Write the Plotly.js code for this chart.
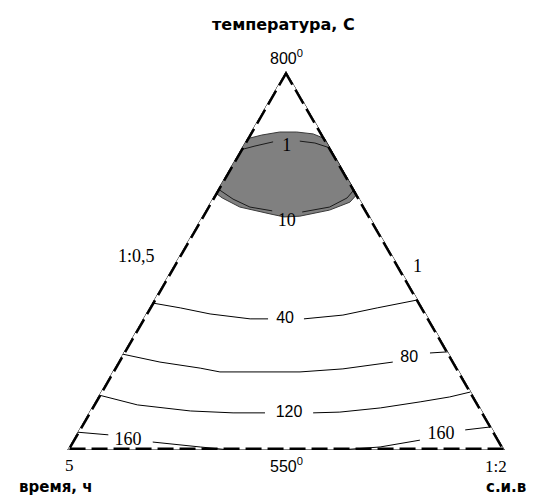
<!DOCTYPE html>
<html>
<head>
<meta charset="utf-8">
<script src="https://cdn.plot.ly/plotly-3.0.1.min.js"></script>
<style>html,body{margin:0;padding:0;background:#fff;}#chart{width:537px;height:496px;}</style>
</head>
<body>
<div id="chart"></div>
<script>
// Ternary coordinates: a = temperature (top vertex), c = ratio (bottom-right), b = time (bottom-left, computed as 1-a-c)
// Triangle border
const borderA = [1, 0, 0, 1];
const borderC = [0, 0, 1, 0];

// Shaded optimum region (outer outline)
const regionA = [0.821, 0.831, 0.839, 0.839, 0.834, 0.821, 0.675, 0.654, 0.633, 0.617, 0.615, 0.623, 0.641, 0.665, 0.678];
const regionC = [0.000, 0.029, 0.066, 0.105, 0.145, 0.179, 0.325, 0.319, 0.283, 0.223, 0.188, 0.152, 0.074, 0.022, 0.000];

// Contour level 1 (gap for label)
const iso1A = [0.792, 0.802, 0.813, null, 0.815, 0.810, 0.797];
const iso1C = [0.000, 0.028, 0.064, null, 0.124, 0.161, 0.202];
// Contour level 10
const iso10A = [0.689, 0.662, 0.641, 0.631, null, 0.628, 0.641, 0.665, 0.686];
const iso10C = [0.000, 0.048, 0.097, 0.153, null, 0.223, 0.279, 0.307, 0.312];
// Contour level 40
const iso40A = [0.388, 0.375, 0.359, 0.346, 0.346, null, 0.346, 0.356, 0.375, 0.396];
const iso40C = [0.000, 0.071, 0.147, 0.245, 0.286, null, 0.368, 0.452, 0.521, 0.603];
// Contour level 80
const iso80A = [0.253, 0.232, 0.216, 0.206, 0.206, 0.214, 0.232, null, 0.256, 0.259];
const iso80C = [0.000, 0.096, 0.196, 0.246, 0.429, 0.523, 0.628, null, 0.701, 0.741];
// Contour level 120
const iso120A = [0.145, 0.119, 0.103, 0.098, 0.098, null, 0.098, 0.100, 0.111, 0.127, 0.140, 0.153];
const iso120C = [0.000, 0.101, 0.230, 0.330, 0.403, null, 0.513, 0.573, 0.660, 0.743, 0.804, 0.845];
// Contour level 160 (two branches)
const iso160A = [0.047, 0.040, null, 0.021, 0.008, 0.000, null, 0.000, 0.008, 0.026, null, 0.053, 0.061];
const iso160C = [0.000, 0.074, null, 0.185, 0.300, 0.372, null, 0.623, 0.711, 0.793, null, 0.883, 0.938];

// Contour labels
const sansLabels = ['40', '80', '120'];
const sansLabelA = [0.346, 0.243, 0.098];
const sansLabelC = [0.325, 0.660, 0.458];
const serifLabels = ['1', '10', '160', '160'];
const serifLabelA = [0.802, 0.604, 0.026, 0.042];
const serifLabelC = [0.101, 0.200, 0.126, 0.833];

// Axis / vertex texts
const titleTop = 'температура, С';
const titleLeft = 'время, ч';
const titleRight = 'с.и.в';
const topValue = '800';
const bottomValue = '550';
const leftValue = '5';
const rightValue = '1:2';
const leftSideValue = '1:0,5';
const rightSideValue = '1';

function line(a, c, opts) {
  return Object.assign({
    type: 'scatterternary', mode: 'lines', a: a, c: c,
    line: {color: '#000', width: 1}, hoverinfo: 'skip', cliponaxis: false
  }, opts || {});
}

const traces = [
  line(regionA, regionC, {fill: 'toself', fillcolor: '#808080', line: {color: '#3a3a3a', width: 1}}),
  line(iso1A, iso1C, {line: {color: '#1a1a1a', width: 1}}),
  line(iso10A, iso10C, {line: {color: '#1a1a1a', width: 1}}),
  line(iso40A, iso40C),
  line(iso80A, iso80C),
  line(iso120A, iso120C),
  line(iso160A, iso160C),
  line(borderA, borderC, {line: {color: '#000', width: 1}}),
  line(borderA, borderC, {line: {color: '#000', width: 5, dash: '16px,6px'}}),
  {type: 'scatterternary', mode: 'text', a: sansLabelA, c: sansLabelC, text: sansLabels,
   textposition: 'middle center', cliponaxis: false, hoverinfo: 'skip',
   textfont: {family: 'Liberation Sans, Arial, sans-serif', size: 16, color: '#000'}},
  {type: 'scatterternary', mode: 'text', a: serifLabelA, c: serifLabelC, text: serifLabels,
   textposition: 'middle center', cliponaxis: false, hoverinfo: 'skip',
   textfont: {family: 'Liberation Serif, Times New Roman, serif', size: 18, color: '#000'}}
];

const axisOff = {showline: false, showgrid: false, showticklabels: false, ticks: '', title: {text: ''}};
const boldFont = {family: 'DejaVu Sans, sans-serif', size: 16, color: '#000', weight: 700};
const cornerFont = {family: 'DejaVu Sans, sans-serif', size: 15, color: '#000', weight: 700};
const sansFont = {family: 'Liberation Sans, Arial, sans-serif', size: 16, color: '#000'};
const serifFont = {family: 'Liberation Serif, Times New Roman, serif', size: 18, color: '#000'};
const cornerSerif = {family: 'Liberation Serif, Times New Roman, serif', size: 17, color: '#000'};

function ann(text, x, y, font, xa) {
  return {text: text, x: x, y: y, xref: 'paper', yref: 'paper', showarrow: false,
          xanchor: xa || 'center', yanchor: 'middle', font: font, borderpad: 0};
}

const layout = {
  width: 537, height: 496,
  margin: {l: 67, r: 32, t: 71, b: 46, pad: 0},
  paper_bgcolor: '#fff', plot_bgcolor: '#fff',
  showlegend: false, hovermode: false,
  ternary: {sum: 1, domain: {x: [0, 1], y: [0, 1]}, bgcolor: 'rgba(0,0,0,0)',
            aaxis: axisOff, baxis: axisOff, caxis: axisOff},
  annotations: [
    ann(titleTop, 0.495, 1.124, boldFont),
    ann(topValue + '<sup>0</sup>', 0.502, 1.036, sansFont),
    ann(bottomValue + '<sup>0</sup>', 0.502, -0.040, sansFont),
    ann(leftValue, 0.005, -0.042, cornerSerif),
    ann(rightValue, 0.979, -0.044, cornerSerif),
    ann(titleLeft, -0.025, -0.097, cornerFont),
    ann(titleRight, 1.003, -0.097, cornerFont),
    ann(leftSideValue, 0.158, 0.512, serifFont),
    ann(rightSideValue, 0.801, 0.485, serifFont)
  ]
};

Plotly.newPlot('chart', traces, layout, {staticPlot: true, displayModeBar: false});
</script>
</body>
</html>
